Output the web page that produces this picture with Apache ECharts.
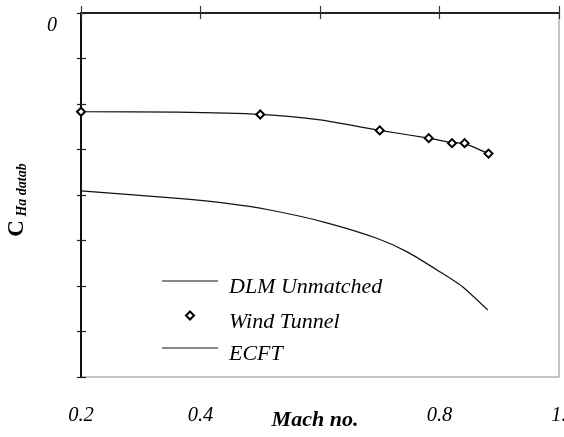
<!DOCTYPE html>
<html>
<head>
<meta charset="utf-8">
<script src="https://cdn.jsdelivr.net/npm/echarts@6/dist/echarts.min.js"></script>
<style>html,body{margin:0;padding:0;background:#fff}#c{width:564px;height:437px}</style>
</head>
<body>
<div id="c"></div>
<script>
// ---- data ----
const xTicks = [0.2, 0.4, 0.6, 0.8, 1.0];
const xTickLabels = ['0.2', '0.4', '', '0.8', '1.'];
const yTicks = [-8, -7, -6, -5, -4, -3, -2, -1, 0];
const yTickLabels = ['', '', '', '', '', '', '', '', '0'];

const seriesNames = ['DLM Unmatched', 'Wind Tunnel', 'ECFT'];

const dlmMach = [0.2, 0.357, 0.441, 0.516, 0.608, 0.695, 0.746, 0.801, 0.839, 0.881];
const dlmVal  = [-3.91, -4.07, -4.18, -4.33, -4.6, -4.95, -5.25, -5.69, -6.02, -6.53];

const wtMach = [0.2, 0.5, 0.7, 0.782, 0.821, 0.842, 0.882];
const wtVal  = [-2.17, -2.23, -2.58, -2.75, -2.86, -2.86, -3.09];

const ecftMach = [0.2, 0.36, 0.5, 0.6, 0.7, 0.782, 0.821, 0.842, 0.882];
const ecftVal  = [-2.17, -2.18, -2.23, -2.35, -2.58, -2.75, -2.85, -2.87, -3.09];

// ---- helpers ----
const zip = (a, b) => a.map((v, i) => [v, b[i]]);
const serif = '"Liberation Serif", "DejaVu Serif", serif';
const xLab = v => { const i = xTicks.findIndex(t => Math.abs(t - v) < 1e-6); return i < 0 ? '' : xTickLabels[i]; };
const yLab = v => { const i = yTicks.findIndex(t => Math.abs(t - v) < 1e-6); return i < 0 ? '' : yTickLabels[i]; };

const chart = echarts.init(document.getElementById('c'), null, {renderer: 'canvas'});
const legendText = (padLeft) => ({
  fontFamily: serif, fontStyle: 'italic', fontSize: 22, color: '#000',
  rich: {a: {fontFamily: serif, fontStyle: 'italic', fontSize: 22, color: '#000', padding: [13, 0, 0, padLeft]}}
});
const legendBase = {orient: 'vertical', itemGap: 0, selectedMode: false, padding: 0, formatter: '{a|{name}}'};
chart.setOption({
  animation: false,
  backgroundColor: '#fff',
  grid: {left: 81, right: 5, top: 13, bottom: 60, show: true, borderColor: '#888', borderWidth: 1, outerBoundsMode: 'none', containLabel: false},
  xAxis: [
    {
      type: 'value', position: 'bottom', min: 0.2, max: 1.0, interval: 0.2,
      axisLine: {show: true, lineStyle: {color: '#444', width: 1.5}},
      axisTick: {show: false}, splitLine: {show: false},
      axisLabel: {formatter: xLab, margin: 29, fontFamily: serif, fontStyle: 'italic', fontSize: 20.5, color: '#000', showMaxLabel: true, showMinLabel: true},
      name: 'Mach no.', nameLocation: 'middle', nameGap: 32, nameMoveOverlap: false,
      nameTextStyle: {fontFamily: serif, fontStyle: 'italic', fontWeight: 'bold', fontSize: 22, color: '#000', padding: [0, 10, 0, 0]}
    },
    {
      type: 'value', position: 'top', min: 0.2, max: 1.0, interval: 0.2,
      axisLine: {show: true, lineStyle: {color: '#222', width: 2}},
      axisTick: {show: false}, axisLabel: {show: false}, splitLine: {show: false}
    },
    {
      type: 'value', position: 'top', offset: -6, min: 0.2, max: 1.0, interval: 0.2,
      axisLine: {show: false},
      axisTick: {show: true, length: 13, lineStyle: {color: '#333', width: 1.2}},
      axisLabel: {show: false}, splitLine: {show: false}
    }
  ],
  yAxis: [
    {
      type: 'value', position: 'left', min: -8, max: 0, interval: 1,
      axisLine: {show: true, lineStyle: {color: '#111', width: 2}},
      axisTick: {show: false}, splitLine: {show: false},
      axisLabel: {formatter: yLab, margin: 24, verticalAlign: 'top', padding: [3, 0, 0, 0], fontFamily: serif, fontStyle: 'italic', fontSize: 20, color: '#000'},
      name: '{c|C}{s| Ha datab}', nameLocation: 'middle', nameGap: 52, nameRotate: 90, nameMoveOverlap: false,
      nameTextStyle: {
        padding: [0, 10, 0, 0],
        rich: {
          c: {fontFamily: serif, fontWeight: 'bold', fontSize: 23, color: '#000'},
          s: {fontFamily: serif, fontWeight: 'bold', fontStyle: 'italic', fontSize: 14, color: '#000', verticalAlign: 'bottom', padding: [6, 0, 0, 0]}
        }
      }
    },
    {
      type: 'value', position: 'left', offset: -5, min: -8, max: 0, interval: 1,
      axisLine: {show: false},
      axisTick: {show: true, length: 9, lineStyle: {color: '#222', width: 1.2}},
      axisLabel: {show: false}, splitLine: {show: false}
    }
  ],
  legend: [
    Object.assign({}, legendBase, {left: 162, top: 276.5, data: [{name: seriesNames[0], icon: 'rect'}], itemWidth: 56, itemHeight: 1.2,
      itemStyle: {color: '#111', borderWidth: 0}, textStyle: legendText(6)}),
    Object.assign({}, legendBase, {left: 185, top: 310.5, data: [{name: seriesNames[1], icon: 'diamond'}], itemWidth: 8, itemHeight: 8,
      itemStyle: {color: '#fff', borderColor: '#000', borderWidth: 2}, textStyle: legendText(30)}),
    Object.assign({}, legendBase, {left: 162, top: 343.5, data: [{name: seriesNames[2], icon: 'rect'}], itemWidth: 56, itemHeight: 1.2,
      itemStyle: {color: '#111', borderWidth: 0}, textStyle: legendText(6)})
  ],
  series: [
    {
      name: seriesNames[0], type: 'line', data: zip(dlmMach, dlmVal), symbol: 'none', smooth: 0.2,
      lineStyle: {color: '#111', width: 1.2}, itemStyle: {color: '#111'}, z: 2
    },
    {
      name: seriesNames[1], type: 'scatter', data: zip(wtMach, wtVal), symbol: 'diamond', symbolSize: 8,
      itemStyle: {color: '#fff', borderColor: '#000', borderWidth: 2, opacity: 1}, z: 5
    },
    {
      name: seriesNames[2], type: 'line', data: zip(ecftMach, ecftVal), symbol: 'none', smooth: 0.2,
      lineStyle: {color: '#111', width: 1.2}, itemStyle: {color: '#111'}, z: 2
    }
  ]
});
</script>
</body>
</html>
